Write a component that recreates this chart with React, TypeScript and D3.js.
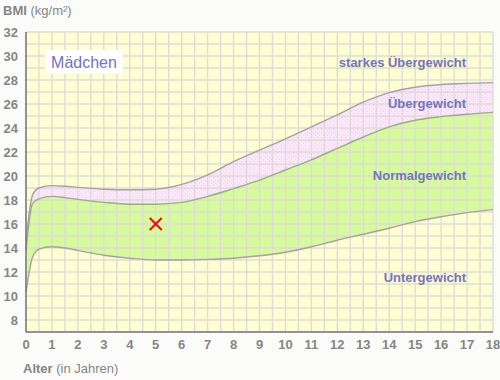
import React from "react";
import * as d3 from "d3";

const ages = [0, 0.25, 0.5, 1, 1.5, 2, 3, 4, 5, 6, 7, 8, 9, 10, 11, 12, 13, 14, 15, 16, 17, 18];
const p10 = [10.3, 13.2, 13.9, 14.1, 14.0, 13.8, 13.4, 13.15, 13.0, 13.0, 13.05, 13.15, 13.35, 13.65, 14.1, 14.65, 15.15, 15.65, 16.2, 16.6, 16.95, 17.2];
const p90 = [13.8, 17.7, 18.1, 18.3, 18.2, 18.05, 17.8, 17.65, 17.65, 17.8, 18.3, 18.95, 19.65, 20.5, 21.35, 22.3, 23.25, 24.1, 24.65, 24.95, 25.15, 25.3];
const p97 = [14.6, 18.4, 19.0, 19.2, 19.15, 19.05, 18.9, 18.85, 18.9, 19.3, 20.1, 21.2, 22.15, 23.1, 24.1, 25.1, 26.15, 26.95, 27.4, 27.62, 27.72, 27.78];

const xTicks = d3.range(0, 19);
const yTicks = [8, 10, 12, 14, 16, 18, 20, 22, 24, 26, 28, 30, 32];
const marker = { age: 5, bmi: 16 };
const zoneLabels = [
  { text: "starkes Übergewicht", bmi: 29.1 },
  { text: "Übergewicht", bmi: 25.64 },
  { text: "Normalgewicht", bmi: 19.67 },
  { text: "Untergewicht", bmi: 11.2 },
];

export default function App() {
  const x = d3.scaleLinear().domain([0, 18]).range([26, 493]);
  const y = d3.scaleLinear().domain([7, 32]).range([332, 32]);
  const pts = ages.map((a, i) => ({ a, lo: p10[i], mid: p90[i], hi: p97[i] }));
  const curve = d3.curveMonotoneX;
  const areaGreen = d3.area<any>().x((d) => x(d.a)).y0((d) => y(d.lo)).y1((d) => y(d.mid)).curve(curve);
  const areaPink = d3.area<any>().x((d) => x(d.a)).y0((d) => y(d.mid)).y1((d) => y(d.hi)).curve(curve);
  const line = (k: string) => d3.line<any>().x((d) => x(d.a)).y((d) => y(d[k])).curve(curve)(pts) as string;
  const vGrid = d3.range(0, 18.01, 0.5);
  const hGrid = d3.range(7, 32.01, 1);
  const font = "Liberation Sans, Arial, sans-serif";
  const labelColor = "#7474bc";
  const tickColor = "#858585";
  const mx = x(marker.age);
  const my = y(marker.bmi);
  return (
    <svg width={500} height={380} style={{ position: "absolute", left: 0, top: 0 }} fontFamily={font}>
      <defs>
        <pattern id="dots" width="4" height="4" patternUnits="userSpaceOnUse">
          <rect width="4" height="4" fill="#fbe6fb" />
          <rect x="1" y="1" width="1" height="1" fill="#f0cdee" />
          <rect x="3" y="3" width="1" height="1" fill="#f3d6f2" />
        </pattern>
      </defs>
      <rect width={500} height={380} fill="#fbfcf9" />
      <rect x={x(0)} y={y(32)} width={x(18) - x(0)} height={y(7) - y(32)} fill="#fefed3" />
      <path d={areaGreen(pts) as string} fill="#d5fb9c" />
      <path d={areaPink(pts) as string} fill="url(#dots)" />
      {vGrid.map((v) => (
        <line key={"v" + v} x1={x(v)} x2={x(v)} y1={y(32)} y2={y(7)} stroke="#e0dbd7" strokeWidth={1.4} />
      ))}
      {hGrid.map((v) => (
        <line key={"h" + v} x1={x(0)} x2={x(18)} y1={y(v)} y2={y(v)} stroke="#e0dbd7" strokeWidth={1.4} />
      ))}
      <path d={line("lo")} fill="none" stroke="#a3a39b" strokeWidth={1.4} />
      <path d={line("mid")} fill="none" stroke="#a3a39b" strokeWidth={1.4} />
      <path d={line("hi")} fill="none" stroke="#a3a39b" strokeWidth={1.4} />
      <line x1={x(0)} x2={x(0)} y1={y(32)} y2={y(7)} stroke="#777" strokeWidth={1.5} />
      <line x1={x(0)} x2={x(18)} y1={y(7)} y2={y(7)} stroke="#777" strokeWidth={1.5} />
      {yTicks.map((t) => (
        <text key={"yt" + t} x={18} y={y(t)} dy="0.36em" textAnchor="end" fontSize={13} fontWeight="bold" fill={tickColor}>
          {t}
        </text>
      ))}
      {xTicks.map((t) => (
        <text key={"xt" + t} x={x(t)} y={349} textAnchor="middle" fontSize={13} fontWeight="bold" fill={tickColor}>
          {t}
        </text>
      ))}
      <text x={3} y={15} fontSize={13} fill={tickColor}>
        <tspan fontWeight="bold">BMI</tspan> (kg/m²)
      </text>
      <text x={23} y={373} fontSize={13} fill={tickColor}>
        <tspan fontWeight="bold">Alter</tspan> (in Jahren)
      </text>
      <rect x={45} y={50} width={78} height={24} fill="#ffffff" />
      <text x={84} y={62} dy="0.36em" textAnchor="middle" fontSize={16} fill={labelColor}>
        Mädchen
      </text>
      {zoneLabels.map((z) => (
        <text key={z.text} x={466} y={y(z.bmi)} textAnchor="end" fontSize={13} fontWeight="bold" fill={labelColor}>
          {z.text}
        </text>
      ))}
      <g stroke="#ee1111" strokeWidth={2.2}>
        <line x1={mx - 6} x2={mx + 6} y1={my - 6} y2={my + 6} />
        <line x1={mx - 6} x2={mx + 6} y1={my + 6} y2={my - 6} />
      </g>
    </svg>
  );
}
